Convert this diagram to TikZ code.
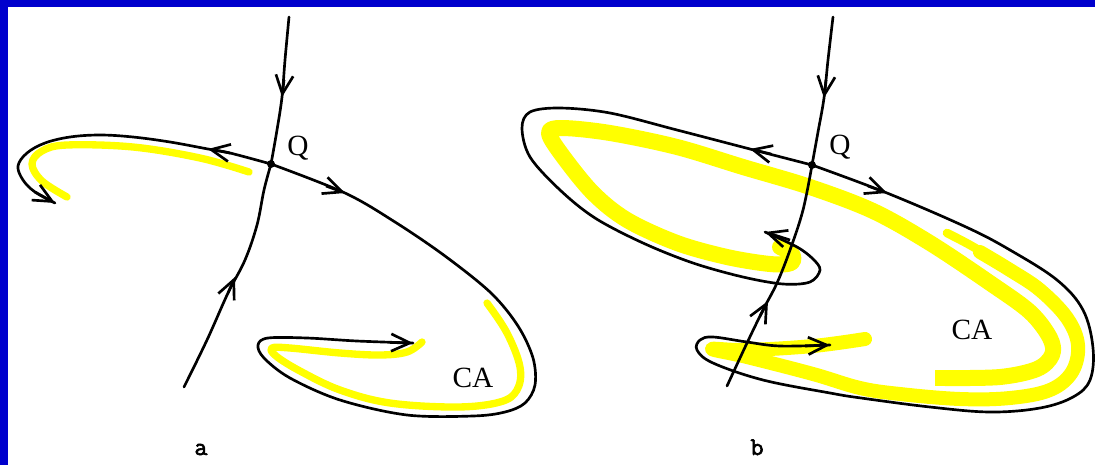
\documentclass[tikz,border=0pt]{standalone}
\usepackage{fontspec}
\setmainfont{Liberation Serif}
\newfontfamily\pfont[FakeBold=2.5]{Latin Modern Mono}
\usetikzlibrary{arrows.meta}
\definecolor{bordblue}{RGB}{0,0,205}
\definecolor{hiyellow}{RGB}{255,255,0}
\begin{document}
\begin{tikzpicture}[x=0.75pt,y=-0.75pt,
  curve/.style={line width=2pt, line join=round, line cap=round},
  tipbarb/.style={line width=2pt, -{Straight Barb[length=14pt,width=13pt]}},
  thinband/.style={draw=hiyellow, line width=5.5pt, line cap=round, line join=round},
  thickband/.style={draw=hiyellow, line width=12pt, line cap=round, line join=round},
  lab/.style={font=\fontsize{22}{24}\selectfont, inner sep=0pt},
  panel/.style={font=\pfont\fontsize{19}{21}\selectfont, inner sep=0pt, anchor=base},
  dot/.style={circle, fill=black, inner sep=0pt, minimum size=6pt}
]
% background and border
\fill[white] (0,0) rectangle (1095,465);
\path[use as bounding box] (0,0) rectangle (1095,465);
\fill[bordblue] (0,0) rectangle (1095,7);
\fill[bordblue] (0,0) rectangle (8,465);

% ================= panel a =================
\coordinate (Qa) at (271,164);
% yellow
\draw[thinband] plot[smooth, tension=0.6] coordinates {(249,172) (200,158) (133,147) (67,145) (42,151) (32,164) (42,181) (67,197)};
\draw[thinband] plot[smooth, tension=0.6] coordinates {(487,303) (507,333) (520,367) (517,390) (500,402) (457,407) (390,403) (340,390) (300,371) (276,356) (272,348) (290,348) (340,353) (380,355) (407,352) (422,342)};
% stable manifold
\draw[curve] plot[smooth, tension=0.6] coordinates {(289,17) (285,60) (282,97) (277,130) (Qa)};
\draw[curve] plot[smooth, tension=0.6] coordinates {(184,387) (207,340) (228,293) (245,260) (257,225) (264,190) (Qa)};
% unstable manifold
\draw[curve] plot[smooth, tension=0.6] coordinates {(Qa) (230,153) (208,149) (170,142) (133,137) (100,135) (70,137) (45,143) (27,153) (18,166) (23,180) (35,192) (55,203)};
\draw[curve] plot[smooth, tension=0.55] coordinates {(Qa) (345,193) (395,222) (445,256) (491,293) (518,326) (533,358) (535,385) (525,403) (505,412) (473,416) (407,415) (340,400) (290,378) (264,358) (258,345) (268,338) (307,338) (357,341) (413,343)};
% arrowheads
\coordinate (a1s) at (284,80);   \coordinate (a1t) at (282,97);
\coordinate (a2s) at (228,293);  \coordinate (a2t) at (235,277);
\coordinate (a3s) at (230,153);  \coordinate (a3t) at (208,149);
\coordinate (a4s) at (326,186);  \coordinate (a4t) at (345,193);
\coordinate (a5s) at (35,192);   \coordinate (a5t) at (55,203);
\coordinate (a6s) at (390,342.5);\coordinate (a6t) at (413,343);
\foreach \n in {1,...,6} {\draw[tipbarb] (a\n s) -- (a\n t);}
\node[dot] (Qadot) at (Qa) {};
\node[lab] (Qla) at (298,148) {Q};
\node[lab] (CAa) at (473,378) {CA};
\node[panel] (pa) at (201,455) {a};

% ================= panel b =================
\coordinate (Qb) at (812,165);
% yellow band B (inner, long)
\draw[thickband] plot[smooth, tension=0.55] coordinates {(780,247) (792,254) (791,263) (770,264) (727,257) (677,243) (627,220) (593,193) (562,155) (549,133) (562,128) (610,133) (677,147) (743,167) (810,187) (873,211) (930,243) (990,283) (1030,312) (1050,338) (1052,355) (1037,369) (1000,377) (945,378)};
\draw[draw=hiyellow, line width=11.5pt, line cap=butt] (955,378) -- (935,378);
% yellow band A (outer)
\draw[draw=hiyellow, line width=6.5pt, line cap=round] plot[smooth, tension=0.6] coordinates {(947,233) (970,245) (995,260)};
\draw[draw=hiyellow, line width=10.5pt, line cap=round, line join=round] plot[smooth, tension=0.6] coordinates {(980,252) (1010,270) (1040,290) (1067,318) (1078,345) (1072,372) (1050,390) (1010,398) (960,399) (900,394) (860,388) (813,374) (747,357) (712,349) (747,350) (813,346) (865,339)};
% stable manifold
\draw[curve] plot[smooth, tension=0.6] coordinates {(833,17) (828,60) (824,98) (818,132) (Qb)};
\draw[curve] plot[smooth, tension=0.6] coordinates {(727,386) (747,343) (763,310) (777,283) (790,250) (803,210) (Qb)};
% unstable manifold
\draw[curve] plot[smooth, tension=0.55] coordinates {(Qb) (750,149) (677,130) (610,113) (560,108) (530,112) (522,128) (530,157) (560,190) (595,218) (643,243) (693,263) (743,277) (783,284) (810,282) (820,270) (813,259) (797,247) (765,232)};
\draw[curve] plot[smooth, tension=0.6] coordinates {(Qb) (887,193) (966,227) (1010,250) (1057,280) (1083,310) (1093,348) (1090,380) (1073,397) (1040,408) (990,412) (930,407) (861,398) (830,393) (763,380) (713,363) (697,350) (700,340) (713,337) (747,342) (780,346) (830,345)};
% arrowheads
\coordinate (b1s) at (826,80);   \coordinate (b1t) at (824,98);
\coordinate (b2s) at (760,316);  \coordinate (b2t) at (768,301);
\coordinate (b3s) at (771,154);  \coordinate (b3t) at (750,149);
\coordinate (b4s) at (868,186);  \coordinate (b4t) at (887,193);
\coordinate (b5s) at (790,240);  \coordinate (b5t) at (765,232);
\coordinate (b6s) at (805,346);  \coordinate (b6t) at (830,345);
\foreach \n in {1,...,6} {\draw[tipbarb] (b\n s) -- (b\n t);}
\node[dot] (Qbdot) at (Qb) {};
\node[lab] (Qlb) at (840,147) {Q};
\node[lab] (CAb) at (972,330) {CA};
\node[panel] (pb) at (757,455) {b};
\end{tikzpicture}
\end{document}
